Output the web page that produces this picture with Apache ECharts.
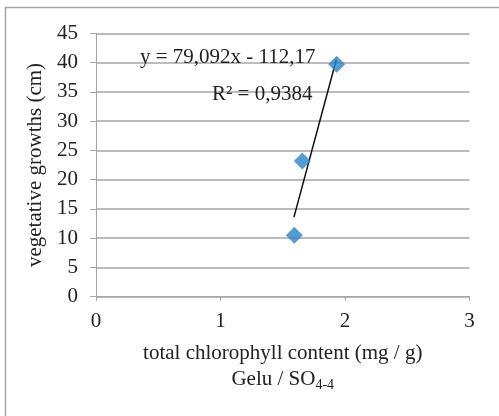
<!DOCTYPE html>
<html>
<head>
<meta charset="utf-8">
<script src="https://cdn.jsdelivr.net/npm/echarts@6/dist/echarts.min.js"></script>
<style>html,body{margin:0;padding:0;background:#fff}#c{width:499px;height:416px}</style>
</head>
<body>
<div id="c"></div>
<script>
// Data
const chlorophyll = [1.593, 1.657, 1.933];
const growth = [10.5, 23.2, 39.7];
const trendX = [1.59, 1.93];
const slope = 79.092, intercept = -112.17;
const equationText = 'y = 79,092x - 112,17';
const r2Text = 'R² = 0,9384';
const xTicks = [0, 1, 2, 3];
const yTicks = [0, 5, 10, 15, 20, 25, 30, 35, 40, 45];

const font = '"Liberation Serif", "Times New Roman", serif';
const fs = 21;
const chart = echarts.init(document.getElementById('c'));
const points = chlorophyll.map((x, i) => [x, growth[i]]);
const trend = trendX.map(x => [x, slope * x + intercept]);

chart.setOption({
  backgroundColor: '#fff',
  animation: false,
  grid: { left: 96, right: 29.5, top: 33.3, bottom: 119.3, containLabel: false },
  xAxis: {
    type: 'value', min: xTicks[0], max: xTicks[xTicks.length - 1], interval: 1,
    axisLine: { show: true, onZero: false, lineStyle: { color: '#a6a6a6', width: 1 } },
    axisTick: { show: true, length: 4, lineStyle: { color: '#a6a6a6' } },
    splitLine: { show: false },
    axisLabel: { color: '#222', fontFamily: font, fontSize: fs, margin: 14 },
    name: 'total chlorophyll content (mg / g)\n{n|Gelu / SO}{s|4-4}',
    nameLocation: 'middle', nameGap: 44,
    nameTextStyle: {
      color: '#222', fontFamily: font, fontSize: fs, lineHeight: 26,
      rich: {
        n: { fontFamily: font, fontSize: fs, color: '#222', lineHeight: 26 },
        s: { fontFamily: font, fontSize: 14, color: '#222', verticalAlign: 'bottom', padding: [9, 0, 0, 0], lineHeight: 26 }
      }
    }
  },
  yAxis: {
    type: 'value', min: yTicks[0], max: yTicks[yTicks.length - 1], interval: 5,
    axisLine: { show: true, lineStyle: { color: '#a6a6a6', width: 1 } },
    axisTick: { show: true, length: 6, lineStyle: { color: '#a6a6a6' } },
    splitLine: { show: true, lineStyle: { color: '#a6a6a6', width: 1.5 } },
    axisLabel: { color: '#222', fontFamily: font, fontSize: fs, margin: 18 },
    name: 'vegetative growths (cm)',
    nameLocation: 'middle', nameGap: 48,
    nameTextStyle: { color: '#222', fontFamily: font, fontSize: fs, lineHeight: 21 }
  },
  graphic: [
    { type: 'rect', shape: { x: 5.5, y: 7.5, width: 520, height: 440 }, style: { fill: 'none', stroke: '#a6a6a6', lineWidth: 1.5 }, silent: true, z: -10 },
    { type: 'text', x: 140, y: 57, style: { text: equationText, fontFamily: font, fontSize: fs, fill: '#222', textVerticalAlign: 'middle', verticalAlign: 'middle' }, z: 10 },
    { type: 'text', x: 212, y: 94, style: { text: r2Text, fontFamily: font, fontSize: fs, fill: '#222', textVerticalAlign: 'middle', verticalAlign: 'middle' }, z: 10 }
  ],
  series: [
    {
      type: 'line', data: trend, symbol: 'none',
      lineStyle: { color: '#111', width: 1.5 }, z: 3
    },
    {
      type: 'scatter', data: points, symbol: 'diamond', symbolSize: 17,
      itemStyle: { color: '#2B83C6' }, z: 4
    }
  ]
});
</script>
</body>
</html>
